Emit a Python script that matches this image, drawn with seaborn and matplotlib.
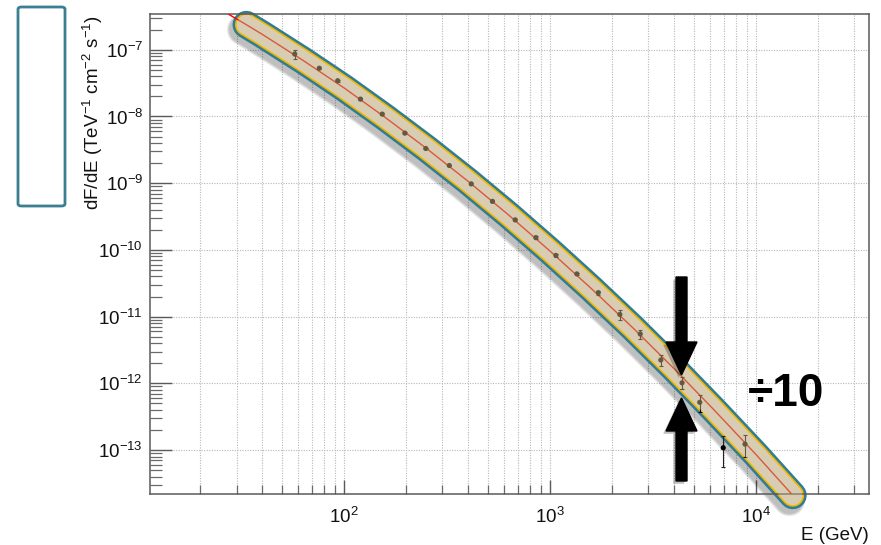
import matplotlib
matplotlib.use("Agg")
import numpy as np
import pandas as pd
import matplotlib.pyplot as plt
import seaborn as sns
from matplotlib import patheffects as pe
from matplotlib.patches import FancyArrow, FancyBboxPatch
from matplotlib.transforms import IdentityTransform
from matplotlib.ticker import LogLocator, LogFormatterSciNotation, NullFormatter

# ---------------- data ----------------
energy_gev = [57.5, 75.7, 93, 120, 153, 197, 249, 324, 414, 525, 677, 853,
              1067, 1349, 1715, 2182, 2741, 3451, 4375, 5333, 8850]
flux = [8.62e-8, 5.28e-8, 3.43e-8, 1.82e-8, 1.085e-8, 5.63e-9, 3.31e-9,
        1.84e-9, 9.77e-10, 5.34e-10, 2.82e-10, 1.53e-10, 8.27e-11, 4.37e-11,
        2.29e-11, 1.078e-11, 5.5e-12, 2.24e-12, 1.02e-12, 5.2e-13, 1.23e-13]
flux_err = [1.45e-8, 2.1e-9, 1.2e-9, 6e-10, 3.5e-10, 1.8e-10, 1.1e-10,
            6e-11, 3.5e-11, 2e-11, 1.1e-11, 6e-12, 3.5e-12, 2e-12,
            1.6e-12, 2.0e-12, 0.8e-12, 0.43e-12, 0.21e-12, 0.15e-12, 0.45e-13]

outlier_energy = [6935]
outlier_flux = [1.083e-13]
outlier_err = [5.3e-14]

fit_energy = [27.5, 33.5, 40, 63, 100, 158, 251, 398, 631, 1000, 1585,
              2512, 3981, 6310, 10000, 15100]
fit_flux = [3.39e-7, 2.37e-7, 1.70e-7, 6.95e-8, 2.67e-8, 9.7e-9, 3.32e-9,
            1.08e-9, 3.31e-10, 9.6e-11, 2.64e-11, 6.9e-12, 1.69e-12,
            3.9e-13, 8.6e-14, 2.1e-14]

x_limits = (11.4, 35400)
y_limits = (2.2e-14, 3.43e-7)
x_title = "E (GeV)"
y_title = r"dF/dE (TeV$^{-1}$ cm$^{-2}$ s$^{-1}$)"
note_text = "÷10"

# ---------------- style ----------------
sns.set_theme(style="white")
plt.rcParams["font.family"] = ["Liberation Sans", "DejaVu Sans"]
plt.rcParams["mathtext.fontset"] = "custom"
plt.rcParams["mathtext.rm"] = "Liberation Sans"
plt.rcParams["mathtext.it"] = "Liberation Sans:italic"
plt.rcParams["mathtext.bf"] = "Liberation Sans:bold"

W, H = 881, 545
fig = plt.figure(figsize=(W / 100, H / 100), dpi=100)
ax = fig.add_axes([150 / W, 1 - 494 / H, (869 - 150) / W, (494 - 14) / H])
ax.set_xscale("log")
ax.set_yscale("log")
ax.set_xlim(*x_limits)
ax.set_ylim(*y_limits)

grid_kw = dict(color="#b8b8b8", linestyle=(0, (1, 1.3)), linewidth=0.8)
ax.set_axisbelow(True)
ax.grid(which="major", axis="both", **grid_kw)
ax.xaxis.set_minor_locator(LogLocator(base=10, subs=np.arange(2, 10), numticks=20))
ax.yaxis.set_minor_locator(LogLocator(base=10, subs=np.arange(2, 10), numticks=20))
ax.xaxis.set_minor_formatter(NullFormatter())
ax.yaxis.set_minor_formatter(NullFormatter())
ax.grid(which="minor", axis="x", **grid_kw)

for sp in ax.spines.values():
    sp.set_color("#5a5a5a")
    sp.set_linewidth(1.1)

ax.tick_params(axis="y", which="major", direction="in", length=16, width=1.0,
               color="#5a5a5a", labelsize=13.5, pad=5, left=True, right=False)
ax.tick_params(axis="y", which="minor", direction="in", length=8.5, width=0.9,
               color="#6a6a6a", left=True, right=False)
ax.tick_params(axis="x", which="major", direction="in", length=10, width=1.0,
               color="#5a5a5a", labelsize=13.5, pad=9, bottom=True, top=False)
ax.tick_params(axis="x", which="minor", direction="in", length=6.5, width=0.9,
               color="#6a6a6a", bottom=True, top=False)
ax.xaxis.set_major_formatter(LogFormatterSciNotation())
ax.yaxis.set_major_formatter(LogFormatterSciNotation())
for lab in ax.get_xticklabels() + ax.get_yticklabels():
    lab.set_color("#111111")

# ---------------- highlighted band along the fit ----------------
band_e = fit_energy[1:]
band_f = fit_flux[1:]
outer_w = 20.0
shadows = [pe.SimpleLineShadow(offset=(-2.5, -3.5), shadow_color="black",
                               alpha=0.09, linewidth=outer_w + k)
           for k in (3, 1.5, 0)]
ax.plot(band_e, band_f, color="#2e7d94", lw=outer_w, solid_capstyle="round",
        solid_joinstyle="round", clip_on=False, zorder=2,
        path_effects=shadows + [pe.Normal()])
ax.plot(band_e, band_f, color="#f2b705", lw=16.4, solid_capstyle="round",
        solid_joinstyle="round", clip_on=False, zorder=2.1)
ax.plot(band_e, band_f, color="white", lw=13.8, solid_capstyle="round",
        solid_joinstyle="round", clip_on=False, zorder=2.2)

# ---------------- fit line and data ----------------
fit_df = pd.DataFrame({"E": fit_energy, "F": fit_flux})
sns.lineplot(data=fit_df, x="E", y="F", ax=ax, color="red", lw=1.0,
             sort=False, estimator=None, zorder=3)

data_df = pd.DataFrame({"E": energy_gev, "F": flux, "err": flux_err})
ax.errorbar(data_df["E"], data_df["F"], yerr=data_df["err"], fmt="none",
            ecolor="black", elinewidth=0.8, capsize=1.6, capthick=0.8, zorder=3.4)
sns.scatterplot(data=data_df, x="E", y="F", ax=ax, color="black", s=14,
                edgecolor="none", zorder=3.5)

out_df = pd.DataFrame({"E": outlier_energy, "F": outlier_flux, "err": outlier_err})
ax.errorbar(out_df["E"], out_df["F"], yerr=out_df["err"], fmt="none",
            ecolor="#222222", elinewidth=0.8, capsize=1.6, capthick=0.8, zorder=3.4)
sns.scatterplot(data=out_df, x="E", y="F", ax=ax, color="black", s=14,
                edgecolor="none", zorder=3.5)

# translucent tan fill on top of everything inside the band
ax.plot(band_e, band_f, color="#b8a273", alpha=0.55, lw=13.8,
        solid_capstyle="round", solid_joinstyle="round", clip_on=False,
        zorder=4)

ax.set_xlabel("")
ax.set_ylabel("")
ax.xaxis.label.set_visible(False)
ax.yaxis.label.set_visible(False)

# ---------------- titles ----------------
fig.text(93 / W, 1 - 15 / H, y_title, rotation=90, ha="center", va="top",
         fontsize=13.5, color="#111111")
fig.text(869 / W, 1 - 535 / H, x_title, ha="right", va="center",
         fontsize=13.5, color="#111111")

# ---------------- annotations ----------------
fig.patches.append(FancyBboxPatch((18 / W, 1 - 206 / H), 47 / W, 199 / H,
                                  boxstyle="round,pad=0,rounding_size=0.004",
                                  transform=fig.transFigure, facecolor="white",
                                  edgecolor="#3a7f92", linewidth=2.0, zorder=5))

pix = IdentityTransform()
arrow_kw = dict(width=11, head_width=31, head_length=33, length_includes_head=True,
                color="black", transform=pix, zorder=6,
                path_effects=[pe.SimplePatchShadow(offset=(-2, -2), alpha=0.25),
                              pe.Normal()])
fig.patches.append(FancyArrow(681.5, H - 277, 0, -(375 - 277), **arrow_kw))
fig.patches.append(FancyArrow(681.5, H - 481, 0, (481 - 398), **arrow_kw))

fig.text(748 / W, 1 - 394 / H, note_text, ha="left", va="center",
         fontsize=33, fontweight="bold", color="black")

fig.savefig("out.png", dpi=100)
